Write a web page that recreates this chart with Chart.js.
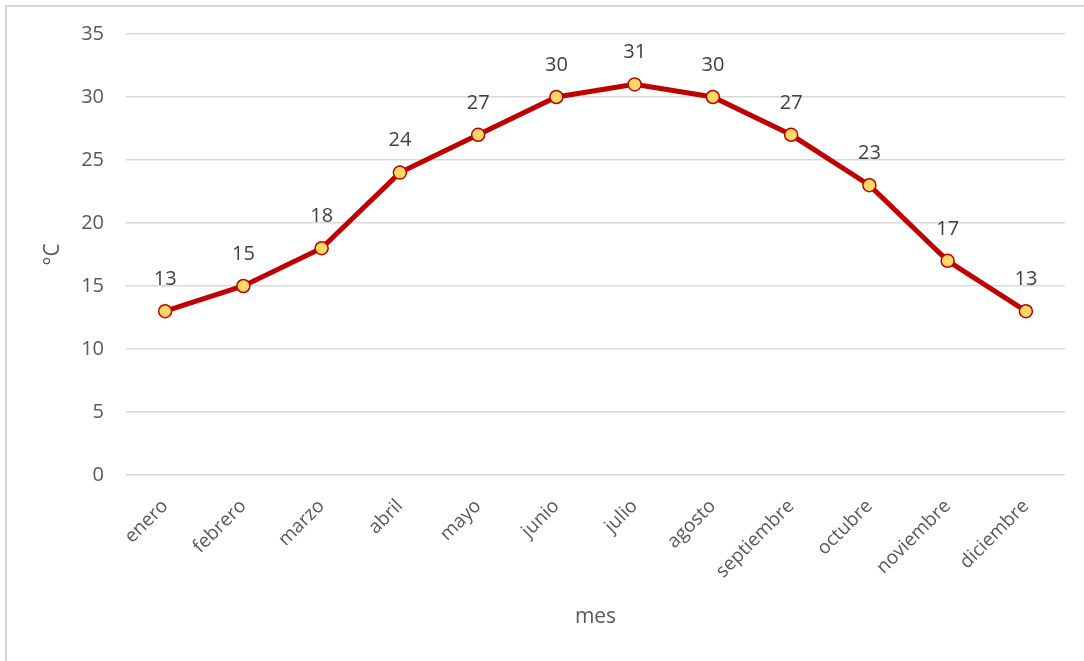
<!DOCTYPE html>
<html><head><meta charset="utf-8">
<script src="https://cdn.jsdelivr.net/npm/chart.js@4.4.0/dist/chart.umd.min.js"></script>
<style>
html,body{margin:0;padding:0;background:#fff;}
#wrap{position:absolute;left:0;top:0;width:1084px;height:661px;}
#frame{position:absolute;left:5px;top:5px;width:1200px;height:700px;border-top:2px solid #d9d9d9;border-left:2px solid #d9d9d9;box-sizing:border-box;pointer-events:none;}
</style></head>
<body>
<div id="wrap"><canvas id="c" width="1084" height="661"></canvas><div id="frame"></div></div>
<script>
const months = ['enero','febrero','marzo','abril','mayo','junio','julio','agosto','septiembre','octubre','noviembre','diciembre'];
const temps = [13,15,18,24,27,30,31,30,27,23,17,13];
const yTicks = [0,5,10,15,20,25,30,35];

const FONT = "'Open Sans', sans-serif";

const labelPlugin = {
  id: 'pointLabels',
  afterDatasetsDraw(chart) {
    const ctx = chart.ctx;
    const meta = chart.getDatasetMeta(0);
    ctx.save();
    ctx.font = "20px " + FONT;
    ctx.fillStyle = '#404040';
    ctx.textAlign = 'center';
    ctx.textBaseline = 'middle';
    meta.data.forEach((pt, i) => {
      ctx.fillText(String(temps[i]), pt.x, pt.y - 32);
    });
    ctx.restore();
  }
};

new Chart(document.getElementById('c'), {
  type: 'line',
  data: {
    labels: months,
    datasets: [{
      data: temps,
      borderColor: '#C00000',
      borderWidth: 5,
      pointRadius: 6.5,
      pointHoverRadius: 6.5,
      pointBackgroundColor: '#FFD966',
      pointBorderColor: '#C00000',
      pointBorderWidth: 1.5,
      tension: 0,
      fill: false
    }]
  },
  options: {
    responsive: false,
    animation: false,
    devicePixelRatio: 1,
    layout: { padding: { left: 40, right: 19, top: 26, bottom: 22 } },
    plugins: { legend: { display: false }, tooltip: { enabled: false } },
    scales: {
      x: {
        offset: true,
        grid: { display: false, drawTicks: false },
        border: { display: false },
        ticks: { color: '#595959', font: { family: FONT, size: 19 }, minRotation: 45, maxRotation: 45, padding: 20, autoSkip: false },
        title: { display: true, text: 'mes', color: '#595959', font: { family: FONT, size: 21 }, padding: { top: 0, bottom: 9 } },
        afterFit(s) { s.height = 164; }
      },
      y: {
        min: 0, max: 35,
        afterBuildTicks(s) { s.ticks = yTicks.map(v => ({ value: v })); },
        grid: { color: '#d9d9d9', lineWidth: 1.5, drawTicks: false },
        border: { display: false },
        ticks: { color: '#595959', font: { family: FONT, size: 20 }, padding: 22 },
        title: { display: true, text: '°C', color: '#595959', font: { family: FONT, size: 21 }, padding: { top: 0, bottom: 0 } },
        afterFit(s) { s.width = 86; }
      }
    }
  },
  plugins: [labelPlugin]
});
</script>
</body></html>
